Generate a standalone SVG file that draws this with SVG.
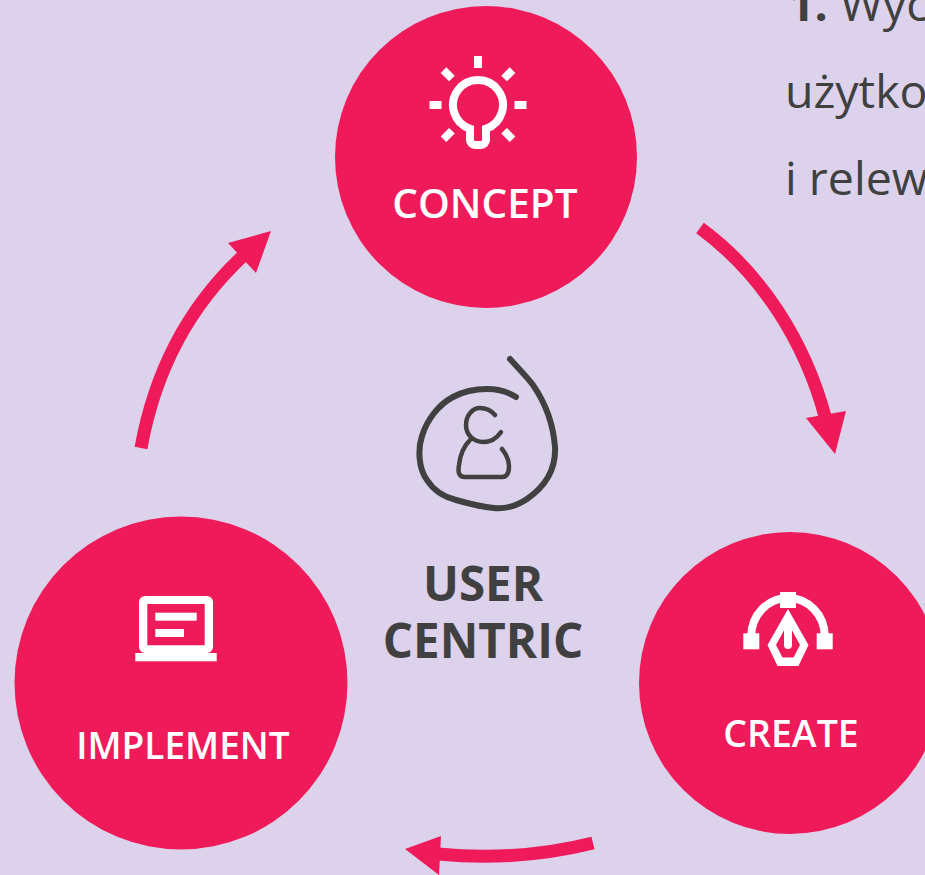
<svg xmlns="http://www.w3.org/2000/svg" width="925" height="875" viewBox="0 0 925 875">
<style>
.node{fill:#ef1a5a}
.lbl{font-family:"Open Sans","Noto Sans",sans-serif;font-weight:600;fill:#fff;text-anchor:middle}
.ic{fill:#fff}
.ics{fill:none;stroke:#fff}
.arc{fill:none;stroke:#ef1a5a;stroke-width:13}
.head{fill:#ef1a5a}
.sk{fill:none;stroke:#404040;stroke-linecap:round;stroke-linejoin:round}
.big{font-family:"Open Sans","Noto Sans",sans-serif;font-weight:700;font-size:47.500px;fill:#404040;text-anchor:middle}
.body{font-family:"Open Sans","Noto Sans",sans-serif;font-size:46.500px;fill:#404040}
</style>
<rect width="925" height="875" fill="#dcd2eb"/>
<g id="side-text">
<text class="body" x="788" y="21"><tspan font-weight="700">1.</tspan> Wyc</text>
<text class="body" x="785" y="108">użytko</text>
<text class="body" x="785" y="195">i relewa</text>
</g>
<g id="connectors">
<path class="arc" d="M700 228C760 272 805 340 826 420"/>
<polygon class="head" points="835,454 806,418 846,411"/>
<path class="arc" d="M593 843C545 855 490 859 438 854"/>
<polygon class="head" points="405,849 441,836 439,875"/>
<path class="arc" d="M141 448C155 370 190 305 244 255"/>
<polygon class="head" points="271,231 228,243 256,273"/>
</g>
<g id="concept">
<circle class="node" cx="486" cy="157" r="151"/>
<rect class="ic" x="474" y="56" width="8" height="12"/>
<rect class="ic" x="429.500" y="101" width="12" height="8"/>
<rect class="ic" x="514.500" y="101" width="12" height="8"/>
<g class="ic">
<rect x="-6" y="-4" width="12" height="8" transform="translate(447.700 74.300) rotate(45)"/>
<rect x="-6" y="-4" width="12" height="8" transform="translate(508.300 74.300) rotate(-45)"/>
<rect x="-6" y="-4" width="12" height="8" transform="translate(447.700 135) rotate(-45)"/>
<rect x="-6" y="-4" width="12" height="8" transform="translate(508.300 135) rotate(45)"/>
</g>
<path class="ics" stroke-width="8" d="M470 128.700V140a5 5 0 0 0 5 5h6a5 5 0 0 0 5-5V128.700A25 25 0 1 0 470 128.700Z"/>
<text class="lbl" x="485" y="218" font-size="40.500">CONCEPT</text>
</g>
<g id="create">
<circle class="node" cx="790" cy="683" r="151"/>
<path class="ics" stroke-width="8" d="M751.300 636A36.700 38 0 0 1 824.700 636"/>
<rect class="ic" x="780" y="592" width="16" height="16"/>
<rect class="ic" x="743.300" y="633.300" width="16" height="16"/>
<rect class="ic" x="816.700" y="633.300" width="16" height="16"/>
<path class="ic" fill-rule="evenodd" d="M788 609L808.500 645L798.500 666H777.500L767.500 645ZM788 623L776 645L782.500 657.500H793.500L800 645Z"/>
<path class="ic" d="M784 622H792V645a4 4 0 0 1-8 0Z"/>
<text class="lbl" x="791" y="747" font-size="37.500">CREATE</text>
</g>
<g id="implement">
<circle class="node" cx="181" cy="683" r="166.500"/>
<path class="ic" fill-rule="evenodd" d="M145 596H207a6 6 0 0 1 6 6V647a6 6 0 0 1-6 6H145a6 6 0 0 1-6-6V602a6 6 0 0 1 6-6ZM147.300 604V645.300H204.700V604Z"/>
<rect class="ic" x="135.300" y="653" width="81.400" height="8.300"/>
<rect class="ic" x="155.300" y="612.700" width="41.400" height="8"/>
<rect class="ic" x="155.300" y="629" width="28.700" height="8"/>
<text class="lbl" x="183" y="759" font-size="37">IMPLEMENT</text>
</g>
<g id="user-centric">
<path class="sk" stroke-width="6" d="M510 359C520 370 528 378 533 385C544 401 553 420 555 447C556 468 546 486 527 499C515 507 505 509 494 508C482 507 470 504 456 500C444 497 434 491 427 480C418 468 418 448 422 436C427 420 438 405 453 397C464 391 474 389 487 389C498 389 508 392 516 397"/>
<path class="sk" stroke-width="4.500" d="M495 415C490 409 484 408 480 408C472 408 466 416 466 425C466 435 474 442 483 442C491 442 497 438 501 432"/>
<path class="sk" stroke-width="4.500" d="M470 440C463 447 460 456 459 465C458 471 458 477 465 477H502C508 477 509 472 509 466C509 460 506 454 502 449"/>
<text class="big" x="483" y="601">USER</text>
<text class="big" x="483" y="658">CENTRIC</text>
</g>
</svg>
